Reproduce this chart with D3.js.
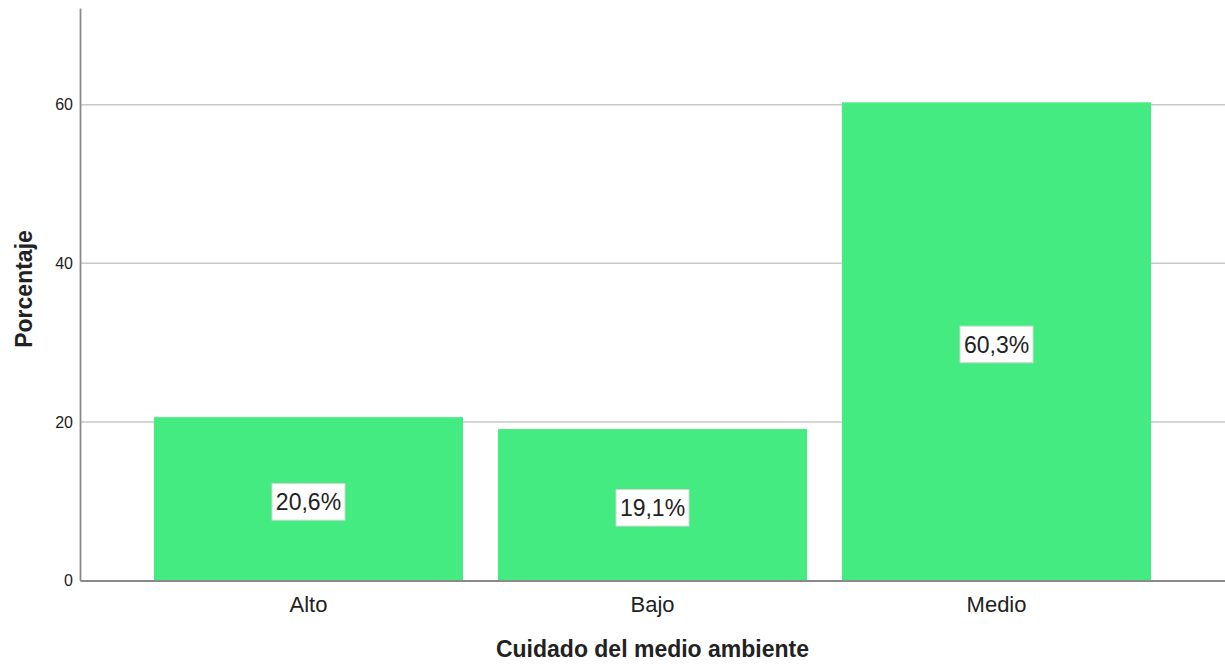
<!DOCTYPE html>
<html>
<head>
<meta charset="utf-8">
<script src="https://cdn.jsdelivr.net/npm/d3@7"></script>
<style>
  body { margin: 0; background: #fff; }
  text { font-family: "Liberation Sans", Arial, sans-serif; fill: #222; }
</style>
</head>
<body>
<script>
// dati
const categorie = ["Alto", "Bajo", "Medio"];
const percentuali = [20.6, 19.1, 60.3];
const etichette = ["20,6%", "19,1%", "60,3%"];
const tickY = [0, 20, 40, 60];

const larghezza = 1225, altezza = 666;
const margine = { sinistra: 80, destra: 1225, alto: 8, basso: 580.5 };

let svg = d3.select("body")
    .append("svg")
    .attr("width", larghezza)
    .attr("height", altezza);

// scale
let scalaX = d3.scaleBand()
    .domain(categorie)
    .range([margine.sinistra, margine.destra])
    .paddingInner(0.1017)
    .paddingOuter(0.215);

let scalaY = d3.scaleLinear()
    .domain([0, 72.2])
    .range([margine.basso, margine.alto]);

// griglia
svg.append("g")
    .selectAll("line")
    .data(tickY.filter(d => d > 0))
    .enter().append("line")
    .attr("x1", margine.sinistra)
    .attr("x2", margine.destra)
    .attr("y1", d => scalaY(d))
    .attr("y2", d => scalaY(d))
    .attr("stroke", "#c8c8c8")
    .attr("stroke-width", 1.5);

// barre
svg.append("g")
    .selectAll("rect")
    .data(percentuali)
    .enter().append("rect")
    .attr("x", (d, i) => scalaX(categorie[i]))
    .attr("y", d => scalaY(d))
    .attr("width", scalaX.bandwidth())
    .attr("height", d => scalaY(0) - scalaY(d))
    .attr("fill", "#43eb80");

// asse Y
let asseY = d3.axisLeft(scalaY).tickValues(tickY).tickSize(0).tickPadding(7);
let gY = svg.append("g")
    .attr("transform", `translate(${margine.sinistra},0)`)
    .call(asseY);
gY.select(".domain").attr("stroke", "#8a8a8a").attr("stroke-width", 1.8);
gY.selectAll("text").style("font-size", "16px").attr("fill", "#222");

// asse X
let asseX = d3.axisBottom(scalaX).tickSize(0).tickPadding(16);
let gX = svg.append("g")
    .attr("transform", `translate(0,${margine.basso})`)
    .call(asseX);
gX.select(".domain").attr("stroke", "#8a8a8a").attr("stroke-width", 1.8);
gX.selectAll("text").style("font-size", "22px").attr("fill", "#222");

// etichette valori
let etich = svg.append("g")
    .selectAll("g")
    .data(percentuali)
    .enter().append("g")
    .attr("transform", (d, i) => `translate(${scalaX(categorie[i]) + scalaX.bandwidth() / 2},${scalaY(d / 2) + 3})`);

etich.append("rect")
    .attr("x", -36.5)
    .attr("y", -18.3)
    .attr("width", 73)
    .attr("height", 36.6)
    .attr("fill", "#fff")
    .attr("stroke", "#d4d4d4")
    .attr("stroke-width", 1);

etich.append("text")
    .attr("text-anchor", "middle")
    .attr("y", 8.3)
    .style("font-size", "23px")
    .text((d, i) => etichette[i]);

// titoli assi
svg.append("text")
    .attr("x", (margine.sinistra + margine.destra) / 2)
    .attr("y", 657)
    .attr("text-anchor", "middle")
    .style("font-size", "23px")
    .style("font-weight", "bold")
    .attr("fill", "#111")
    .text("Cuidado del medio ambiente");

svg.append("text")
    .attr("transform", "translate(32,289) rotate(-90)")
    .attr("text-anchor", "middle")
    .style("font-size", "23px")
    .style("font-weight", "bold")
    .attr("fill", "#111")
    .text("Porcentaje");
</script>
</body>
</html>
